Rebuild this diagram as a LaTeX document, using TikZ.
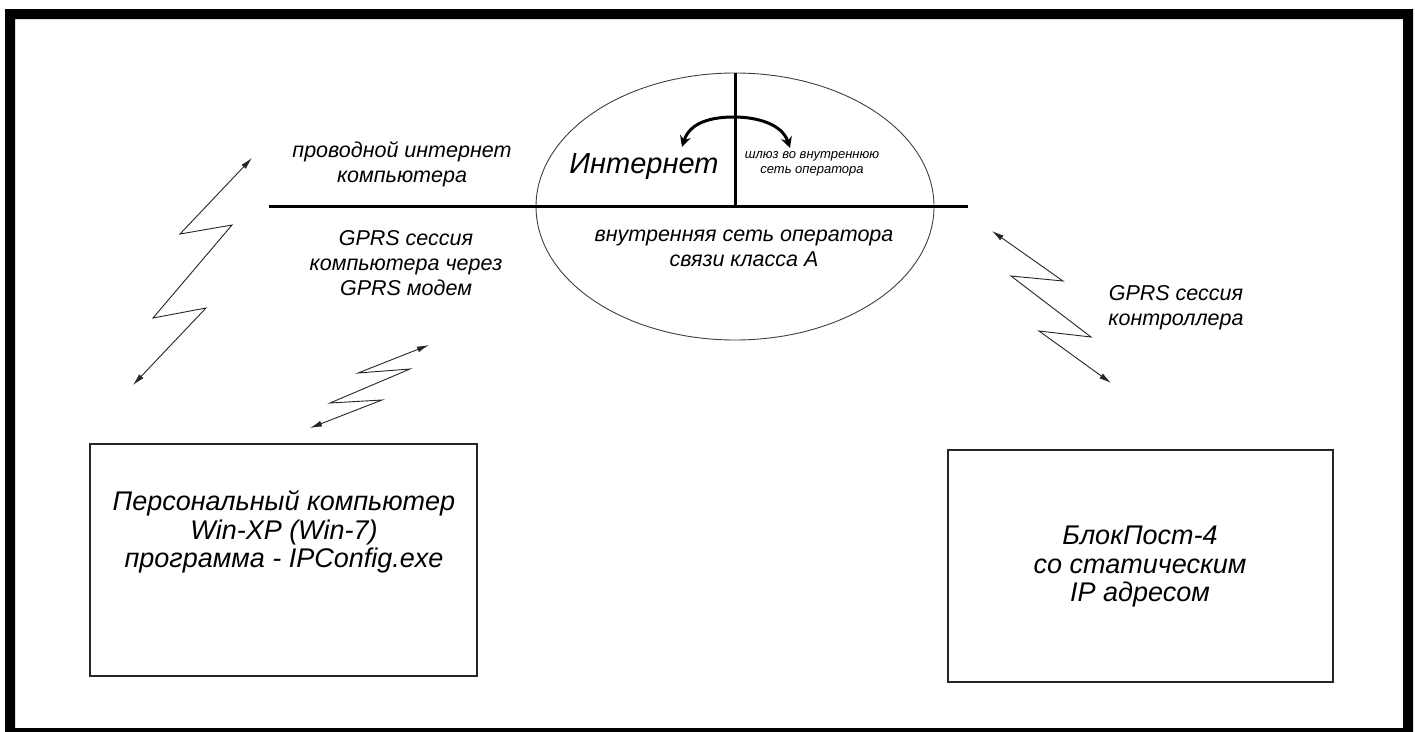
\documentclass[tikz,border=0pt]{standalone}
\usepackage{fontspec}
\setmainfont{Liberation Sans}
\usetikzlibrary{arrows.meta,shapes.geometric}
\begin{document}
\begin{tikzpicture}[x=1pt,y=-1pt,
  lbl/.style={font=\itshape\fontsize{21.5}{25}\selectfont, align=center, inner sep=0pt},
  boxlbl/.style={font=\itshape\fontsize{27}{28.5}\selectfont, align=center, inner sep=0pt},
  boxnode/.style={draw=black!85, line width=1.5pt, inner sep=0pt, rectangle},
  zz/.style={line width=0.9pt, draw=black!85, {Latex[length=12pt,width=6pt]}-{Latex[length=12pt,width=6pt]}},
  thickline/.style={line width=3pt},
]
\useasboundingbox (0,0) rectangle (1415,731);
\fill[white] (0,0) rectangle (1415,731);
\fill[black, even odd rule] (5,9) rectangle (1413,738) (15,19) rectangle (1403,728);

% operator network ellipse
\node[ellipse, draw=black!75, line width=0.9pt, minimum width=398pt, minimum height=267pt, inner sep=0pt] (net) at (735,206.5) {};
\coordinate (hl) at (269,206.5);
\coordinate (hr) at (968,206.5);
\draw[thickline] (hl) -- (hr);
\draw[thickline] (net.north) -- (net.center);

% gateway curved arrow
\coordinate (ga) at (682,147);
\coordinate (gb) at (790,148);
\draw[line width=3pt, {Stealth[length=11pt,width=11pt]}-{Stealth[length=11pt,width=11pt]}]
  (ga) .. controls (690,122) and (712,117) .. (734,117) .. controls (757,117) and (782,124) .. (gb);

% texts
\node[font=\itshape\fontsize{29}{32}\selectfont, inner sep=0pt, anchor=base] (inet) at (644,173) {Интернет};
\node[font=\itshape\fontsize{13}{15.5}\selectfont, align=center, inner sep=0pt] (gw) at (812,164) {шлюз во внутреннюю\\сеть оператора};
\node[lbl] (inner) at (744,248) {внутренняя сеть оператора\\связи класса А};
\node[lbl] (wired) at (402,164) {проводной интернет\\компьютера};
\node[lbl] (gprspc) at (406,263) {GPRS сессия\\компьютера через\\GPRS модем};
\node[lbl] (gprsctl) at (1176,308) {GPRS сессия\\контроллера};

% boxes
\node[boxnode, minimum width=387pt, minimum height=232pt] (pc) at (283.5,560) {};
\node[boxlbl] (pctext) at (284,532) {Персональный компьютер\\Win-XP (Win-7)\\программа - IPConfig.exe};
\node[boxnode, minimum width=385pt, minimum height=232pt] (bp) at (1140.5,566) {};
\node[boxlbl] (bptext) at (1140,567) {БлокПост-4\\со статическим\\IP адресом};

% zigzag radio links
\coordinate (a0) at (252,158);
\coordinate (a5) at (133,385);
\draw[zz] (a0) -- (180,234) -- (232,225) -- (153,318) -- (206,308) -- (a5);
\coordinate (b0) at (429,345);
\coordinate (b5) at (310,428);
\draw[zz] (b0) -- (358,373) -- (410,369) -- (330,403) -- (382,400) -- (b5);
\coordinate (c0) at (992,231);
\coordinate (c5) at (1111,383);
\draw[zz] (c0) -- (1063,281) -- (1011,276) -- (1091,337) -- (1039,331) -- (c5);
\end{tikzpicture}
\end{document}
